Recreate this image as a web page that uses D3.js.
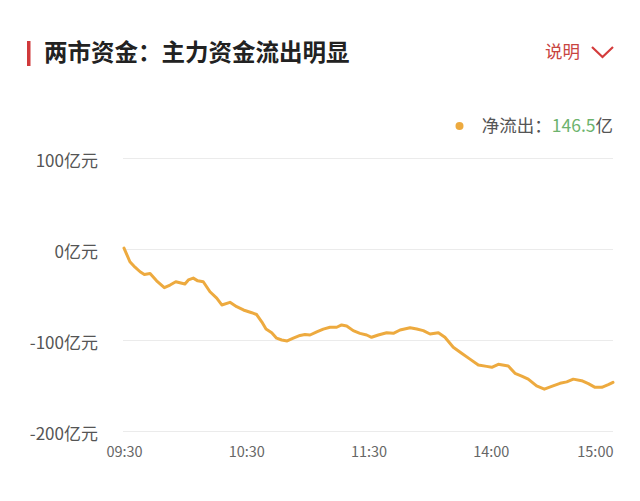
<!DOCTYPE html>
<html>
<head>
<meta charset="utf-8">
<script src="https://cdn.jsdelivr.net/npm/d3@7/dist/d3.min.js"></script>
<style>
  html, body { margin: 0; padding: 0; background: #fff; }
  svg { display: block; font-family: "Noto Sans CJK SC", "Noto Sans", sans-serif; }
</style>
</head>
<body>
<svg id="chart" width="640" height="501"></svg>
<script>
// ---- data ----
const title = "两市资金：主力资金流出明显";
const yTicks = [100, 0, -100, -200];
const yTickLabels = ["100亿元", "0亿元", "-100亿元", "-200亿元"];
const xTicks = [0, 60, 120, 180, 240];           // trading minutes since 09:30
const xTickLabels = ["09:30", "10:30", "11:30", "14:00", "15:00"];
const minutes = [0, 2.9, 5.4, 7.9, 10, 12.8, 16, 19.8, 22.6, 25.4, 29.9, 31.6, 34, 36.2, 38.9,
  42.2, 45.5, 48, 52, 55.3, 58.6, 62.7, 65.1, 67.6, 69.7, 72.5, 74.9, 77.4, 80.1, 83.1, 86.4,
  88.8, 91.3, 94.6, 97.8, 101.1, 104.4, 106.8, 109.3, 112.5, 115.8, 119.1, 121.5, 124.8, 128.9,
  132.2, 135.5, 140.4, 143.7, 146.9, 150.2, 154.3, 157.5, 161.6, 165.7, 169.8, 173.9, 178,
  180.5, 183.7, 188.6, 191.9, 195.2, 198.4, 202.5, 206.3, 209.9, 214, 217.3, 220.5, 224.6,
  227.9, 231.2, 234.5, 237.7, 240];
const netFlow = [1, -14, -20, -25, -28, -27, -35, -42.5, -39.6, -36, -38.5, -34, -32, -35, -36,
  -47, -54, -61.5, -58.6, -63.4, -67, -70, -72, -80, -88, -92, -98, -100, -101, -98, -95,
  -94, -94.5, -91, -88, -86, -86, -83.5, -84.6, -89.7, -92.7, -94.5, -97, -94.5, -92,
  -92.7, -89, -86.5, -88, -89.7, -93.4, -92, -97, -108, -114.6, -121, -127.5, -129,
  -130, -126.7, -128.6, -136.6, -139.6, -143, -150.5, -154, -151, -147.6, -146, -143, -144.7,
  -148, -152, -152, -149, -146.5];
const legendLabel = "净流出：";
const legendValue = "146.5";
const legendUnit = "亿";
const explainLabel = "说明";

// ---- drawing ----
const svg = d3.select("#chart");
const lineColor = "#EDAA3F";

// header
svg.append("rect").attr("x", 27).attr("y", 41).attr("width", 3.5).attr("height", 25).attr("fill", "#D0393B");
svg.append("text").attr("x", 44).attr("y", 53).attr("dy", "0.36em")
  .attr("font-size", 23.5).attr("font-weight", "bold").attr("fill", "#222").text(title);
svg.append("text").attr("x", 580).attr("y", 52).attr("dy", "0.36em").attr("text-anchor", "end")
  .attr("font-size", 17.5).attr("fill", "#C8453F").text(explainLabel);
svg.append("path").attr("d", "M592,47 L602.5,57 L613,47").attr("fill", "none")
  .attr("stroke", "#D43C3C").attr("stroke-width", 2.2);

// legend
svg.append("circle").attr("cx", 459.5).attr("cy", 126).attr("r", 4).attr("fill", lineColor);
const lg = svg.append("text").attr("x", 613).attr("y", 126).attr("dy", "0.36em")
  .attr("text-anchor", "end").attr("font-size", 17.5).attr("fill", "#555");
lg.append("tspan").text(legendLabel);
lg.append("tspan").attr("fill", "#6DB36D").text(legendValue);
lg.append("tspan").text(legendUnit);

// scales
const x = d3.scaleLinear().domain([0, 240]).range([124, 613]);
const y = d3.scaleLinear().domain([-200, 100]).range([431, 158]);

// y axis + gridlines
const yAxis = d3.axisLeft(y).tickValues(yTicks)
  .tickFormat((d, i) => yTickLabels[i])
  .tickSize(-(613 - 123)).tickPadding(25);
const gy = svg.append("g").attr("transform", "translate(123,0)").call(yAxis);
gy.select(".domain").remove();
gy.selectAll(".tick line").attr("stroke", "#EBEBEB").attr("stroke-width", 1.2);
gy.selectAll(".tick text").attr("font-size", 17).attr("fill", "#555")
  .attr("font-family", "'Noto Sans CJK SC', sans-serif").attr("dy", "0.52em");

// x axis
const xAxis = d3.axisBottom(x).tickValues(xTicks)
  .tickFormat((d, i) => xTickLabels[i]).tickSize(0).tickPadding(16);
const gx = svg.append("g").attr("transform", "translate(0,431)").call(xAxis);
gx.select(".domain").remove();
gx.selectAll(".tick text").attr("font-size", 14.5).attr("fill", "#666")
  .attr("font-family", "'Noto Sans CJK SC', sans-serif")
  .attr("text-anchor", (d, i) => i === xTicks.length - 1 ? "end" : "middle");

// line
const data = minutes.map((m, i) => ({ m, v: netFlow[i] }));
svg.append("path").datum(data)
  .attr("fill", "none").attr("stroke", lineColor).attr("stroke-width", 3)
  .attr("stroke-linejoin", "round").attr("stroke-linecap", "round")
  .attr("d", d3.line().x(d => x(d.m)).y(d => y(d.v)));
</script>
</body>
</html>
